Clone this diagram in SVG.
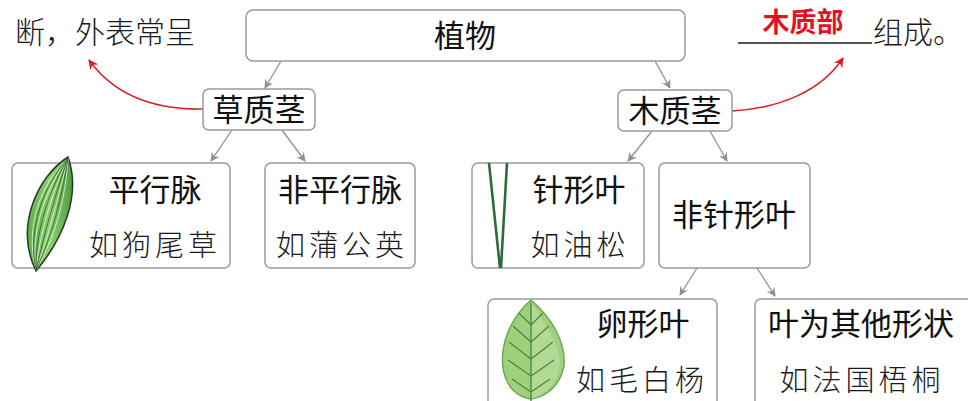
<svg xmlns="http://www.w3.org/2000/svg" width="968" height="401" viewBox="0 0 968 401">
  <style>
    .box { fill: #fff; stroke: #9a9a9a; stroke-width: 1.5; }
    .t { font-family: "Noto Sans CJK SC", "Noto Sans", sans-serif; font-size: 31px; font-weight: 400; fill: #111; text-anchor: middle; }
    .ex { font-family: "Noto Sans CJK SC", "Noto Sans", sans-serif; font-size: 29px; font-weight: 300; fill: #1a1a1a; text-anchor: middle; letter-spacing: 4px; }
    .note { font-family: "Liberation Serif", "Noto Sans CJK SC", serif; font-size: 30px; font-weight: 300; fill: #1a1a1a; }
    .link { fill: none; stroke: #8c9099; stroke-width: 1.3; marker-end: url(#ah); }
    .red { fill: none; stroke: #d81e28; stroke-width: 1.4; marker-end: url(#ahr); }
  </style>
  <defs>
    <marker id="ah" viewBox="0 0 10 10" refX="9" refY="5" markerWidth="9" markerHeight="9" markerUnits="userSpaceOnUse" orient="auto">
      <path d="M0 0 L10 5 L0 10 L3 5 Z" fill="#8c9099"/>
    </marker>
    <marker id="ahr" viewBox="0 0 10 10" refX="9" refY="5" markerWidth="10" markerHeight="10" markerUnits="userSpaceOnUse" orient="auto">
      <path d="M0 0 L10 5 L0 10 L3 5 Z" fill="#d81e28"/>
    </marker>
    <linearGradient id="grass" x1="0" y1="0" x2="1" y2="0">
      <stop offset="0" stop-color="#5fae4c"/>
      <stop offset="0.5" stop-color="#8fcf72"/>
      <stop offset="1" stop-color="#4f9c40"/>
    </linearGradient>
  </defs>

  <!-- side notes -->
  <g id="note-left">
    <text class="note" x="195" y="43" text-anchor="end">断，外表常呈</text>
  </g>
  <g id="note-right">
    <line x1="738" y1="43" x2="872" y2="43" stroke="#1a1a1a" stroke-width="1.5"/>
    <text x="803" y="32" text-anchor="middle" font-family="Noto Sans CJK SC, sans-serif" font-size="27" font-weight="700" fill="#e0141e">木质部</text>
    <text class="note" x="873" y="43">组成。</text>
  </g>

  <!-- connectors -->
  <g id="connectors">
    <path class="link" d="M281 61 L265 88"/>
    <path class="link" d="M655 61 L670 88"/>
    <path class="link" d="M232 130 L211 161"/>
    <path class="link" d="M282 130 L305 161"/>
    <path class="link" d="M652 131 L628 161"/>
    <path class="link" d="M710 131 L727 161"/>
    <path class="link" d="M697 268 L680 295"/>
    <path class="link" d="M757 268 L775 296"/>
    <path class="red" d="M203 109 C150 110 112 92 89 60"/>
    <path class="red" d="M732 111 C782 108 822 90 843 58"/>
  </g>

  <g id="plant">
    <rect class="box" x="246" y="10" width="439" height="51" rx="7"/>
    <text class="t" x="465" y="47">植物</text>
  </g>

  <g id="herb-stem">
    <rect class="box" x="203" y="89" width="112" height="41" rx="6"/>
    <text class="t" x="259" y="121">草质茎</text>
  </g>

  <g id="wood-stem">
    <rect class="box" x="618" y="90" width="114" height="41" rx="6"/>
    <text class="t" x="675" y="122">木质茎</text>
  </g>

  <g id="parallel">
    <rect class="box" x="12" y="163" width="218" height="105" rx="6"/>
    <path d="M68 157 C38 176 14 226 36 271 C62 240 82 196 68 157 Z" fill="url(#grass)" stroke="#243d22" stroke-width="1.5"/>
    <g fill="none" stroke="#e6f5dc" stroke-width="0.9" opacity="0.9">
      <path d="M68 158 C48 185 30 228 36 270"/>
      <path d="M68 158 C54 188 40 230 36 270"/>
      <path d="M68 158 C60 190 50 232 36 270"/>
      <path d="M68 158 C66 192 58 232 36 270"/>
      <path d="M68 158 C42 182 24 226 36 270"/>
    </g>
    <g fill="none" stroke="#2f5e2a" stroke-width="0.8">
      <path d="M68 158 C51 187 35 229 36 270"/>
      <path d="M68 158 C57 189 45 231 36 270"/>
      <path d="M68 158 C63 191 54 232 36 270"/>
      <path d="M68 158 C45 184 27 227 36 270"/>
    </g>
    <text class="t" x="155" y="201">平行脉</text>
    <text class="ex" x="155" y="256">如狗尾草</text>
  </g>

  <g id="non-parallel">
    <rect class="box" x="265" y="163" width="150" height="105" rx="6"/>
    <text class="t" x="340" y="201">非平行脉</text>
    <text class="ex" x="342" y="256">如蒲公英</text>
  </g>

  <g id="needle">
    <rect class="box" x="472" y="163" width="172" height="105" rx="6"/>
    <path d="M489 163 L500 268 M507 163 L501 268" fill="none" stroke="#2c6b3c" stroke-width="2.6"/>
    <text class="t" x="579" y="201">针形叶</text>
    <text class="ex" x="580" y="256">如油松</text>
  </g>

  <g id="non-needle">
    <rect class="box" x="659" y="163" width="151" height="105" rx="6"/>
    <text class="t" x="734" y="226">非针形叶</text>
  </g>

  <g id="ovate">
    <rect class="box" x="488" y="299" width="229" height="110" rx="6"/>
    <path d="M531 300 C510 318 500 345 503 368 C506 388 518 397 531 399 C546 397 560 386 564 366 C566 342 552 318 531 300 Z" fill="#9fd07e" stroke="#6aa64e" stroke-width="1.4"/>
    <path d="M531 300 C540 318 556 335 560 360 C560 380 548 394 531 399 Z" fill="#bfe1a6" opacity="0.6"/>
    <g fill="none" stroke="#4c8a3a" stroke-width="1.4">
      <path d="M531 302 L531 401"/>
      <path d="M531 325 L519 313 M531 325 L543 313"/>
      <path d="M531 342 L513 326 M531 342 L549 326"/>
      <path d="M531 359 L509 342 M531 359 L553 342"/>
      <path d="M531 376 L508 360 M531 376 L554 360"/>
      <path d="M531 392 L512 379 M531 392 L550 379"/>
    </g>
    <text class="t" x="643" y="335">卵形叶</text>
    <text class="ex" x="642" y="391">如毛白杨</text>
  </g>

  <g id="other-shape">
    <rect class="box" x="755" y="299" width="230" height="110" rx="6"/>
    <text class="t" x="861" y="335">叶为其他形状</text>
    <text class="ex" x="862" y="391">如法国梧桐</text>
  </g>
</svg>
